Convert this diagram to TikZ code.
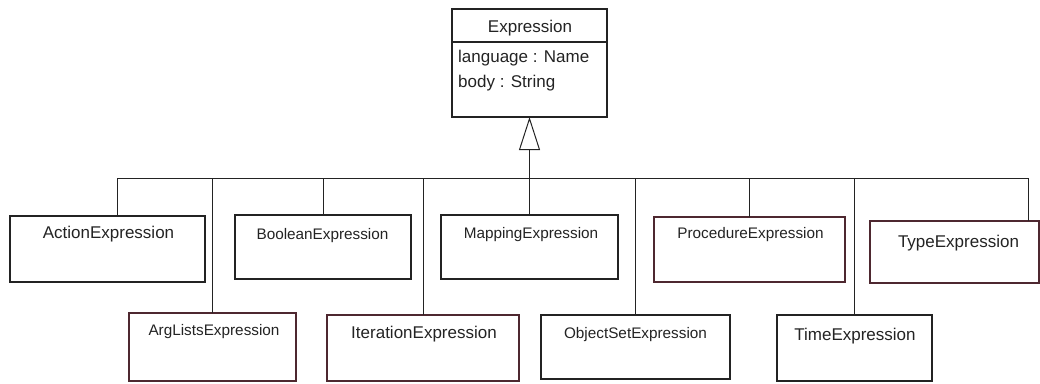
\documentclass[tikz,border=0pt]{standalone}
\usepackage{fontspec}
\setmainfont{Liberation Sans}
\usetikzlibrary{arrows.meta, positioning}
\definecolor{ink}{RGB}{35,35,35}
\definecolor{rim}{RGB}{78,40,48}

\begin{document}
\begin{tikzpicture}[x=1pt, y=-1pt,
    cls/.style={draw=ink, line width=1.1pt, inner sep=0pt, outer sep=0pt},
    big/.style={font=\fontsize{17}{20}\selectfont, text=ink, inner sep=0pt},
    small/.style={font=\fontsize{15.3}{18}\selectfont, text=ink, inner sep=0pt},
    link/.style={draw=ink, line width=1pt},
    inherit/.style={link, -{Triangle[open, length=33pt, width=21pt, line width=1pt]}}
  ]
  \useasboundingbox (0,0) rectangle (1040,383);

  % superclass with its attribute compartment
  \node[cls, minimum width=155, minimum height=33] (expr) at (529.5,25.5) {};
  \node[cls, minimum width=155, minimum height=75, below=0pt of expr] (expr-body) {};
  \node[big] (expr-name) at (530,28) {Expression};
  \node[big, align=left, anchor=north west, font=\fontsize{17}{25}\selectfont] (expr-attr) at (458,50) {language : Name\\body : String};

  % first row of subclasses
  \node[cls, minimum width=195, minimum height=66] (act) at (107.5,249) {};
  \node[big] (act-name) at (108.5,234) {ActionExpression};
  \node[cls, minimum width=176, minimum height=64] (bool) at (323,247) {};
  \node[small] (bool-name) at (322.5,235.5) {BooleanExpression};
  \node[cls, minimum width=177, minimum height=64] (map) at (529.5,247) {};
  \node[small] (map-name) at (531,234.5) {MappingExpression};
  \node[cls, draw=rim, minimum width=191, minimum height=65] (proc) at (749.5,249.5) {};
  \node[small] (proc-name) at (750.5,234.5) {ProcedureExpression};
  \node[cls, draw=rim, minimum width=169, minimum height=62] (type) at (954.5,252) {};
  \node[big] (type-name) at (958.5,243.5) {TypeExpression};

  % second row of subclasses
  \node[cls, draw=rim, minimum width=167, minimum height=68] (arg) at (212.5,347) {};
  \node[small] (arg-name) at (214,331.5) {ArgListsExpression};
  \node[cls, draw=rim, minimum width=192, minimum height=66] (iter) at (423,348) {};
  \node[big] (iter-name) at (424,334.5) {IterationExpression};
  \node[cls, minimum width=189, minimum height=64] (obj) at (635.5,347) {};
  \node[small] (obj-name) at (635.5,334.5) {ObjectSetExpression};
  \node[cls, minimum width=155, minimum height=66] (time) at (854.5,348) {};
  \node[big] (time-name) at (855,336.5) {TimeExpression};

  % generalization tree
  \coordinate (bus) at (529.5,178);
  \draw[link] ([xshift=9.5]act.north) |- ([xshift=73.5]type.north |- bus) -- ([xshift=73.5]type.north);
  \foreach \c in {arg, bool, iter, obj, proc, time}
    \draw[link] (\c.north) -- (\c.north |- bus);
  \draw[inherit] (map.north) -- (expr-body.south);
\end{tikzpicture}
\end{document}
